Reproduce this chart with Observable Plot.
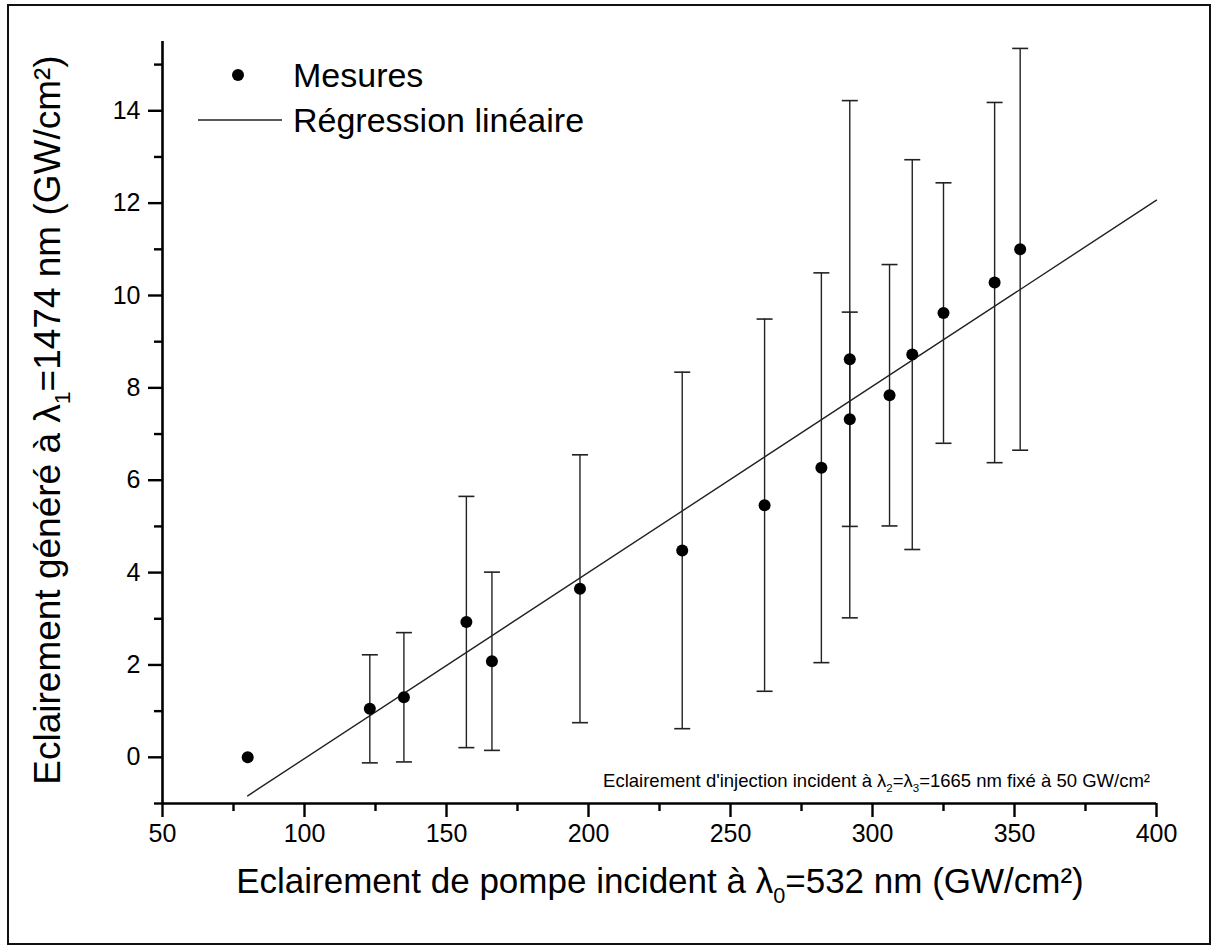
<!DOCTYPE html>
<html>
<head>
<meta charset="utf-8">
<script src="https://cdn.jsdelivr.net/npm/d3@7"></script>
<script src="https://cdn.jsdelivr.net/npm/@observablehq/plot@0.6"></script>
<style>
  html, body { margin: 0; padding: 0; background: #fff; }
  svg { display: block; }
</style>
</head>
<body>
<div id="chart"></div>
<script>
// ---- data ----
const pumpIrradiance = [80, 123, 135, 157, 166, 197, 233, 262, 282, 292, 292, 306, 314, 325, 343, 352];
const generatedIrradiance = [0, 1.05, 1.3, 2.93, 2.08, 3.65, 4.48, 5.46, 6.27, 8.62, 7.32, 7.84, 8.72, 9.62, 10.28, 11.0];
const errorHalfWidth = [null, 1.17, 1.4, 2.72, 1.93, 2.9, 3.86, 4.03, 4.22, 5.6, 2.32, 2.83, 4.22, 2.82, 3.9, 4.35];
const xTicks = [50, 100, 150, 200, 250, 300, 350, 400];
const xMinorTicks = [75, 125, 175, 225, 275, 325, 375];
const yTicks = [0, 2, 4, 6, 8, 10, 12, 14];
const yMinorTicks = [-1, 1, 3, 5, 7, 9, 11, 13, 15];
const xDomain = [50, 400];
const yDomain = [-1, 15.5];

const points = pumpIrradiance.map((x, i) => ({x, y: generatedIrradiance[i], e: errorHalfWidth[i]}));
const withErr = points.filter(d => d.e != null);

// ordinary least-squares fit of the measurements
const mx = d3.mean(points, d => d.x), my = d3.mean(points, d => d.y);
const slope = d3.sum(points, d => (d.x - mx) * (d.y - my)) / d3.sum(points, d => (d.x - mx) ** 2);
const intercept = my - slope * mx;
const fitX = [d3.min(pumpIrradiance), xDomain[1]];
const fitLine = fitX.map(x => ({x, y: intercept + slope * x}));

// cap symbol: a horizontal segment
const capSymbol = {
  draw(ctx, size) {
    const w = Math.sqrt(size / Math.PI);
    ctx.moveTo(-w, 0);
    ctx.lineTo(w, 0);
  }
};

const W = 1218, H = 952;
const font = "'Liberation Sans', Arial, sans-serif";
const svg = Plot.plot({
  width: W,
  height: H,
  marginLeft: 162,
  marginRight: 62,
  marginTop: 41,
  marginBottom: 149,
  style: {fontFamily: font, color: "#000", background: "#fff"},
  x: {domain: xDomain},
  y: {domain: yDomain},
  marks: [
    Plot.axisX({ticks: xTicks, tickSize: 14, tickPadding: 7, fontSize: 25, label: null, tickFormat: d => String(d), strokeWidth: 2.4}),
    Plot.axisX({ticks: xMinorTicks, tickSize: 8, text: null, label: null, strokeWidth: 2.4}),
    Plot.axisY({ticks: yTicks, tickSize: 14, tickPadding: 8, fontSize: 25, label: null, tickFormat: d => String(d), strokeWidth: 2.4}),
    Plot.axisY({ticks: yMinorTicks, tickSize: 8, text: null, label: null, strokeWidth: 2.4}),
    Plot.ruleY([yDomain[0]], {strokeWidth: 2.6, stroke: "#000"}),
    Plot.ruleX([xDomain[0]], {strokeWidth: 2.6, stroke: "#000"}),
    Plot.ruleX(withErr, {x: "x", y1: d => d.y - d.e, y2: d => d.y + d.e, stroke: "#222", strokeWidth: 1.4}),
    Plot.dot(withErr, {x: "x", y: d => d.y - d.e, symbol: capSymbol, r: 8, stroke: "#222", strokeWidth: 1.6}),
    Plot.dot(withErr, {x: "x", y: d => d.y + d.e, symbol: capSymbol, r: 8, stroke: "#222", strokeWidth: 1.6}),
    Plot.line(fitLine, {x: "x", y: "y", stroke: "#222", strokeWidth: 1.4}),
    Plot.dot(points, {x: "x", y: "y", r: 6, fill: "#000", stroke: "none"})
  ]
});

const s = d3.select(svg);

// make axis ticks bold black
s.selectAll('g[aria-label="x-axis tick"], g[aria-label="y-axis tick"]')
  .attr("stroke", "#000").attr("stroke-width", 2.4).attr("stroke-opacity", 1)
  .selectAll("path").attr("stroke", "#000").attr("stroke-width", 2.4);

// outer frame
s.append("rect").attr("x", 8).attr("y", 5).attr("width", 1202).attr("height", 939)
  .attr("fill", "none").attr("stroke", "#111").attr("stroke-width", 2);

// helper for text with a subscript
function subText(g, parts, size) {
  parts.forEach(p => {
    if (p.sub) {
      g.append("tspan").attr("font-size", size * 0.62).attr("dy", size * 0.28).text(p.t);
    } else if (p.after) {
      g.append("tspan").attr("font-size", size).attr("dy", -size * 0.28).text(p.t);
    } else {
      g.append("tspan").attr("font-size", size).text(p.t);
    }
  });
}

// x axis title
const xt = s.append("text").attr("x", 660).attr("y", 893).attr("text-anchor", "middle")
  .attr("font-family", font).attr("fill", "#000").attr("font-size", 35);
subText(xt, [{t: "Eclairement de pompe incident à λ"}, {t: "0", sub: true}, {t: "=532 nm (GW/cm²)", after: true}], 35);

// y axis title
const yt = s.append("text").attr("transform", "translate(60,420) rotate(-90)").attr("text-anchor", "middle")
  .attr("font-family", font).attr("fill", "#000").attr("font-size", 37);
subText(yt, [{t: "Eclairement généré à λ"}, {t: "1", sub: true}, {t: "=1474 nm (GW/cm²)", after: true}], 37);

// annotation
const an = s.append("text").attr("x", 1150).attr("y", 787).attr("text-anchor", "end")
  .attr("font-family", font).attr("fill", "#000").attr("font-size", 18.5);
subText(an, [{t: "Eclairement d'injection incident à λ"}, {t: "2", sub: true}, {t: "=λ", after: true}, {t: "3", sub: true}, {t: "=1665 nm fixé à 50 GW/cm²", after: true}], 18.5);

// legend
const lg = s.append("g").attr("font-family", font).attr("fill", "#000").attr("text-anchor", "start");
lg.append("circle").attr("cx", 238).attr("cy", 75).attr("r", 6).attr("fill", "#000");
lg.append("text").attr("x", 293).attr("y", 87).attr("font-size", 34).text("Mesures");
lg.append("line").attr("x1", 198).attr("x2", 282).attr("y1", 120).attr("y2", 120).attr("stroke", "#222").attr("stroke-width", 1.4);
lg.append("text").attr("x", 293).attr("y", 132).attr("font-size", 34).text("Régression linéaire");

document.getElementById("chart").appendChild(svg);
</script>
</body>
</html>
